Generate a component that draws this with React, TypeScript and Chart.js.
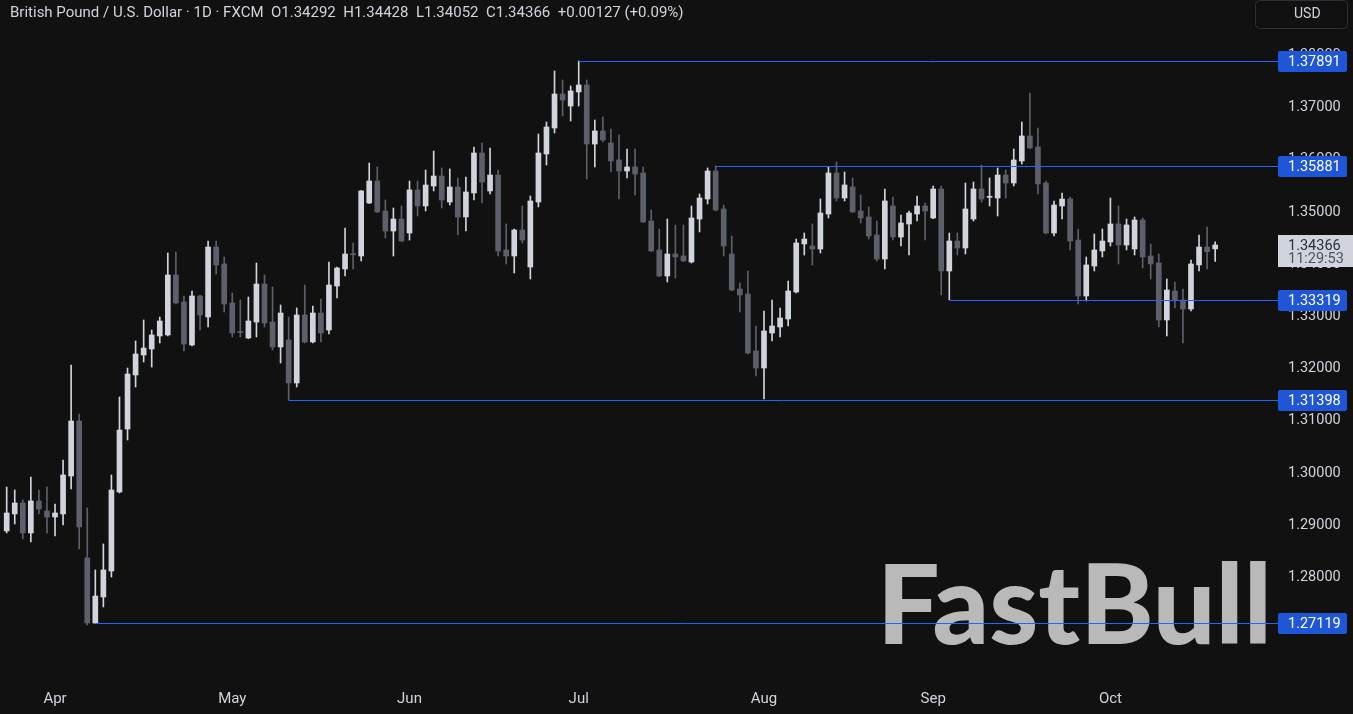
import React, { useEffect, useRef } from 'react';
import { Chart, registerables } from 'chart.js';

Chart.register(...registerables);

// ---------- data ----------
const START_DATE = '2025-03-24'; // first daily candle (weekdays only)

const opens = [
  1.28888, 1.29214, 1.29424, 1.28850, 1.29463, 1.29271, 1.29156, 1.29214, 1.29941, 1.30995,
  1.28372, 1.27125, 1.27623, 1.28121, 1.29635, 1.30842, 1.31876, 1.32259, 1.32374, 1.32624,
  1.32643, 1.33792, 1.33275, 1.32451, 1.33390, 1.32987, 1.34328, 1.34003, 1.33256, 1.32700,
  1.32585, 1.32891, 1.33619, 1.32891, 1.32413, 1.32547, 1.31723, 1.33026, 1.32509, 1.33064,
  1.32738, 1.33581, 1.33907, 1.34194, 1.34156, 1.35171, 1.35593, 1.35018, 1.34635, 1.34864,
  1.34596, 1.35422, 1.35114, 1.35497, 1.35688, 1.35190, 1.35478, 1.34903, 1.35363, 1.36129,
  1.35402, 1.35707, 1.34271, 1.34156, 1.34654, 1.33945, 1.35190, 1.36110, 1.36608, 1.37259,
  1.37029, 1.37298, 1.37432, 1.36301, 1.36551, 1.36321, 1.35995, 1.35784, 1.35861, 1.35746,
  1.34826, 1.34271, 1.33773, 1.34194, 1.34156, 1.34041, 1.34864, 1.35248, 1.35784, 1.35056,
  1.34194, 1.33524, 1.33428, 1.32336, 1.32010, 1.32681, 1.32796, 1.32949, 1.33466, 1.34386,
  1.34347, 1.34290, 1.34960, 1.35746, 1.35267, 1.35478, 1.35018, 1.34903, 1.34558, 1.34098,
  1.35114, 1.34520, 1.34769, 1.34960, 1.35114, 1.34884, 1.35440, 1.33869, 1.34443, 1.34309,
  1.34864, 1.35440, 1.35280, 1.35267, 1.35707, 1.35554, 1.35976, 1.36455, 1.36244, 1.35554,
  1.34596, 1.35114, 1.35248, 1.34462, 1.33390, 1.33964, 1.34252, 1.34424, 1.34769, 1.34366,
  1.34290, 1.34845, 1.34156, 1.34022, 1.32930, 1.33485, 1.33313, 1.33141, 1.33984, 1.34328,
  1.34292,
];

const highs = [
  1.29730, 1.29673, 1.29482, 1.29922, 1.29673, 1.29730, 1.29405, 1.30248, 1.32068, 1.31129,
  1.29329, 1.28141, 1.28639, 1.29961, 1.31455, 1.32010, 1.32528, 1.32930, 1.32738, 1.32987,
  1.34213, 1.34232, 1.33390, 1.33485, 1.33400, 1.34443, 1.34443, 1.34137, 1.33447, 1.33313,
  1.33371, 1.34022, 1.33792, 1.33562, 1.33217, 1.32987, 1.33160, 1.33600, 1.33198, 1.33332,
  1.34041, 1.33945, 1.34692, 1.34405, 1.35410, 1.35937, 1.35861, 1.35229, 1.35075, 1.35114,
  1.35593, 1.35593, 1.35803, 1.36167, 1.35842, 1.35823, 1.35650, 1.35669, 1.36244, 1.36321,
  1.36225, 1.35803, 1.34769, 1.34673, 1.35114, 1.35305, 1.36493, 1.36723, 1.37700, 1.37527,
  1.37413, 1.37891, 1.37527, 1.36761, 1.36819, 1.36589, 1.36474, 1.36206, 1.36206, 1.35861,
  1.35037, 1.34673, 1.34864, 1.34750, 1.34750, 1.35114, 1.35344, 1.35842, 1.35881, 1.35133,
  1.34539, 1.33639, 1.33869, 1.32815, 1.33102, 1.33313, 1.33160, 1.33677, 1.34481, 1.34596,
  1.34769, 1.35248, 1.35861, 1.35957, 1.35765, 1.35650, 1.35324, 1.35095, 1.34826, 1.35440,
  1.35286, 1.34941, 1.35018, 1.35305, 1.35171, 1.35497, 1.35497, 1.34596, 1.34596, 1.35554,
  1.35573, 1.35899, 1.35650, 1.35842, 1.35803, 1.36206, 1.36723, 1.37278, 1.36608, 1.35593,
  1.35210, 1.35363, 1.35286, 1.34673, 1.34137, 1.34577, 1.34673, 1.35267, 1.35114, 1.34864,
  1.34903, 1.34884, 1.34386, 1.34194, 1.33715, 1.33658, 1.33524, 1.34079, 1.34558, 1.34711,
  1.34428,
];

const lows = [
  1.28850, 1.29022, 1.28735, 1.28677, 1.29214, 1.28850, 1.28792, 1.29003, 1.29692, 1.28544,
  1.27087, 1.27119, 1.27432, 1.28006, 1.29616, 1.30631, 1.31646, 1.32125, 1.32029, 1.32489,
  1.32624, 1.33236, 1.32336, 1.32432, 1.32738, 1.32796, 1.33811, 1.33083, 1.32604, 1.32604,
  1.32570, 1.32604, 1.32796, 1.32355, 1.32106, 1.31398, 1.31646, 1.32490, 1.32489, 1.32509,
  1.32662, 1.33351, 1.33773, 1.33907, 1.34060, 1.35160, 1.34990, 1.34501, 1.34156, 1.34430,
  1.34462, 1.34922, 1.35018, 1.35402, 1.35075, 1.35133, 1.34558, 1.34635, 1.35229, 1.35171,
  1.35344, 1.34156, 1.34003, 1.33830, 1.34405, 1.33715, 1.35095, 1.35899, 1.36512, 1.36838,
  1.36742, 1.37029, 1.35631, 1.35861, 1.36340, 1.35765, 1.35248, 1.35650, 1.35324, 1.34800,
  1.34240, 1.33760, 1.33658, 1.33734, 1.34050, 1.34022, 1.34616, 1.35152, 1.35020, 1.34156,
  1.33490, 1.33083, 1.32280, 1.31857, 1.31416, 1.32528, 1.32604, 1.32815, 1.33447, 1.34175,
  1.33984, 1.34213, 1.34884, 1.35210, 1.35210, 1.34990, 1.34788, 1.34481, 1.34060, 1.33907,
  1.34462, 1.34347, 1.34175, 1.34826, 1.34462, 1.34870, 1.33409, 1.33319, 1.34175, 1.34194,
  1.34826, 1.35190, 1.35114, 1.34922, 1.35267, 1.35497, 1.35918, 1.36210, 1.35344, 1.34580,
  1.34539, 1.34864, 1.34271, 1.33236, 1.33294, 1.33869, 1.34137, 1.34347, 1.34003, 1.34271,
  1.34175, 1.33926, 1.33715, 1.32796, 1.32624, 1.33160, 1.32489, 1.33102, 1.33869, 1.33907,
  1.34052,
];

const closes = [
  1.29233, 1.29424, 1.28850, 1.29463, 1.29309, 1.29156, 1.29233, 1.29961, 1.30995, 1.28964,
  1.27125, 1.27642, 1.28141, 1.29673, 1.30822, 1.31895, 1.32278, 1.32393, 1.32643, 1.32911,
  1.33792, 1.33256, 1.32470, 1.33390, 1.33026, 1.34328, 1.33984, 1.33236, 1.32681, 1.32690,
  1.32911, 1.33619, 1.32872, 1.32413, 1.33064, 1.31723, 1.33026, 1.32509, 1.33064, 1.32681,
  1.33600, 1.33926, 1.34194, 1.34180, 1.35402, 1.35593, 1.34999, 1.34635, 1.34864, 1.34443,
  1.35422, 1.35114, 1.35516, 1.35688, 1.35229, 1.35478, 1.34903, 1.35382, 1.36129, 1.35573,
  1.35707, 1.34252, 1.34156, 1.34654, 1.34462, 1.35210, 1.36129, 1.36627, 1.37259, 1.37144,
  1.37317, 1.37432, 1.36301, 1.36551, 1.36378, 1.35976, 1.35784, 1.35861, 1.35727, 1.34807,
  1.34252, 1.33773, 1.34194, 1.34137, 1.34060, 1.34884, 1.35267, 1.35784, 1.35037, 1.34347,
  1.33505, 1.33409, 1.32298, 1.32010, 1.32719, 1.32815, 1.32968, 1.33485, 1.34405, 1.34481,
  1.34290, 1.34980, 1.35746, 1.35267, 1.35516, 1.34999, 1.34884, 1.34539, 1.34098, 1.35210,
  1.34520, 1.34788, 1.34980, 1.35114, 1.35018, 1.35440, 1.33869, 1.34443, 1.34309, 1.35056,
  1.35440, 1.35248, 1.35290, 1.35707, 1.35554, 1.35995, 1.36455, 1.36225, 1.35535, 1.34596,
  1.35133, 1.35248, 1.34443, 1.33390, 1.33984, 1.34271, 1.34443, 1.34769, 1.34366, 1.34750,
  1.34845, 1.34137, 1.34003, 1.32930, 1.33505, 1.33313, 1.33141, 1.34003, 1.34328, 1.34239,
  1.34366,
];

const monthLabels = ['Apr', 'May', 'Jun', 'Jul', 'Aug', 'Sep', 'Oct'];
const priceTicks = [1.27, 1.28, 1.29, 1.30, 1.31, 1.32, 1.33, 1.34, 1.35, 1.36, 1.37, 1.38];

// horizontal levels drawn on the chart, and the candle index each starts from
const levelPrices = [1.37891, 1.35881, 1.33319, 1.31398, 1.27119];
const levelStartIndex = [71, 88, 117, 35, 11];

const symbolTitle = 'British Pound / U.S. Dollar · 1D · FXCM';
const countdown = '11:29:53';
const currency = 'USD';
const watermarkText = 'FastBull';

// ---------- view settings ----------
const X_MIN = -0.83;
const X_MAX = 157.8;
const Y_MIN = 1.26033;
const Y_MAX = 1.3906;

const BG = '#111111';
const UP = '#d1d4dc';
const DOWN = '#5d606b';
const TEXT = '#d1d4dc';
const LEVEL = '#2962ff';
const LEVEL_BOX = '#1f56d8';
const FONT = 'Roboto, "Noto Sans", sans-serif';
const AXIS_FONT_SIZE = 14.5;

function buildDates(start: string, n: number): Date[] {
  const out: Date[] = [];
  const d = new Date(start + 'T00:00:00Z');
  while (out.length < n) {
    const wd = d.getUTCDay();
    if (wd !== 0 && wd !== 6) out.push(new Date(d.getTime()));
    d.setUTCDate(d.getUTCDate() + 1);
  }
  return out;
}

const dates = buildDates(START_DATE, opens.length);
const monthStartIdx: number[] = [];
for (let i = 1; i < dates.length; i++) {
  if (dates[i].getUTCMonth() !== dates[i - 1].getUTCMonth()) monthStartIdx.push(i);
}

const overlayPlugin = {
  id: 'overlay',
  beforeDraw(chart: any) {
    const { ctx, width, height } = chart;
    ctx.save();
    ctx.fillStyle = BG;
    ctx.fillRect(0, 0, width, height);
    ctx.restore();
  },
  beforeDatasetsDraw(chart: any) {
    const { ctx } = chart;
    ctx.save();
    let size = 100;
    ctx.font = `900 ${size}px Lato, ${FONT}`;
    const w = ctx.measureText(watermarkText).width;
    size = (size * 395) / w;
    ctx.font = `900 ${size}px Lato, ${FONT}`;
    ctx.fillStyle = '#b9b9b9';
    ctx.textBaseline = 'alphabetic';
    ctx.textAlign = 'left';
    ctx.fillText(watermarkText, 877, 644);
    ctx.restore();
  },
  afterDatasetsDraw(chart: any) {
    const { ctx, chartArea, scales } = chart;
    const xs = scales.x;
    const ys = scales.y;
    ctx.save();
    ctx.strokeStyle = LEVEL;
    ctx.lineWidth = 1;
    levelPrices.forEach((p, i) => {
      const y = Math.round(ys.getPixelForValue(p)) + 0.5;
      const x0 = xs.getPixelForValue(levelStartIndex[i]);
      ctx.beginPath();
      ctx.moveTo(x0, y);
      ctx.lineTo(chartArea.right, y);
      ctx.stroke();
    });
    ctx.restore();
  },
  afterDraw(chart: any) {
    const { ctx, chartArea, scales, width } = chart;
    const ys = scales.y;
    ctx.save();
    // level labels on the price axis
    ctx.font = `${AXIS_FONT_SIZE}px ${FONT}`;
    ctx.textBaseline = 'middle';
    ctx.textAlign = 'left';
    levelPrices.forEach((p) => {
      const y = Math.round(ys.getPixelForValue(p));
      ctx.fillStyle = LEVEL_BOX;
      ctx.beginPath();
      (ctx as any).roundRect(chartArea.right, y - 10, 69, 21, 2);
      ctx.fill();
      ctx.fillStyle = '#ffffff';
      ctx.fillText(p.toFixed(5), chartArea.right + 10, y + 1);
    });
    // last price label
    const last = closes.length - 1;
    const yl = Math.round(ys.getPixelForValue(closes[last]));
    ctx.fillStyle = '#d1d4dc';
    ctx.fillRect(chartArea.right, yl - 10, width - chartArea.right, 32);
    ctx.fillStyle = '#2a2e39';
    ctx.fillText(closes[last].toFixed(5), chartArea.right + 10, yl + 1);
    ctx.fillStyle = '#50535e';
    ctx.fillText(countdown, chartArea.right + 10, yl + 14);
    // title
    const prev = closes[last - 1];
    const chg = closes[last] - prev;
    const pct = (chg / prev) * 100;
    const sign = chg >= 0 ? '+' : '-';
    const title =
      `${symbolTitle}  O${opens[last].toFixed(5)}  H${highs[last].toFixed(5)}  L${lows[last].toFixed(5)}  C${closes[last].toFixed(5)}  ` +
      `${sign}${Math.abs(chg).toFixed(5)} (${sign}${Math.abs(pct).toFixed(2)}%)`;
    ctx.fillStyle = TEXT;
    ctx.font = `15px ${FONT}`;
    ctx.fillText(title, 10, 13);
    // currency box
    ctx.strokeStyle = '#2f3139';
    ctx.lineWidth = 1;
    ctx.beginPath();
    (ctx as any).roundRect(1255.5, 0.5, 92, 28, 4);
    ctx.stroke();
    ctx.fillStyle = TEXT;
    ctx.font = `14px ${FONT}`;
    ctx.fillText(currency, 1294, 14);
    ctx.restore();
  },
};

export default function App() {
  const ref = useRef<HTMLCanvasElement | null>(null);

  useEffect(() => {
    const canvas = ref.current;
    if (!canvas) return;
    const colors = opens.map((o, i) => (closes[i] >= o ? UP : DOWN));
    const chart = new Chart(canvas, {
      type: 'bar',
      data: {
        datasets: [
          {
            label: 'body',
            data: opens.map((o, i) => ({ x: i, y: [o, closes[i]] })) as any,
            backgroundColor: colors,
            borderWidth: 0,
            barThickness: 5,
            minBarLength: 1,
            grouped: false,
            order: 0,
          },
          {
            label: 'wick',
            data: lows.map((l, i) => ({ x: i, y: [l, highs[i]] })) as any,
            backgroundColor: colors,
            borderWidth: 0,
            barThickness: 1,
            grouped: false,
            order: 1,
          },
        ],
      },
      options: {
        animation: false,
        responsive: false,
        devicePixelRatio: 1,
        layout: { padding: 0 },
        plugins: { legend: { display: false }, tooltip: { enabled: false } },
        scales: {
          x: {
            type: 'linear',
            min: X_MIN,
            max: X_MAX,
            offset: false,
            grid: { display: false, drawTicks: false },
            border: { display: false },
            afterBuildTicks: (scale: any) => {
              scale.ticks = monthStartIdx.map((v) => ({ value: v }));
            },
            afterFit: (scale: any) => {
              scale.height = 34;
              scale.paddingLeft = 0;
              scale.paddingRight = 0;
            },
            ticks: {
              autoSkip: false,
              maxRotation: 0,
              color: TEXT,
              padding: 10,
              font: { family: FONT, size: 15 },
              callback: (_v: any, i: number) => monthLabels[i],
            },
          },
          y: {
            type: 'linear',
            position: 'right',
            min: Y_MIN,
            max: Y_MAX,
            grid: { display: false, drawTicks: false },
            border: { display: false },
            afterBuildTicks: (scale: any) => {
              scale.ticks = priceTicks.map((v) => ({ value: v }));
            },
            afterFit: (scale: any) => {
              scale.width = 75;
              scale.paddingTop = 0;
              scale.paddingBottom = 0;
            },
            ticks: {
              color: TEXT,
              padding: 10,
              font: { family: FONT, size: AXIS_FONT_SIZE },
              callback: (v: any) => Number(v).toFixed(5),
            },
          },
        },
      } as any,
      plugins: [overlayPlugin],
    });
    return () => chart.destroy();
  }, []);

  return (
    <div style={{ position: 'fixed', left: 0, top: 0, width: 1353, height: 714, background: BG }}>
      <canvas ref={ref} width={1353} height={714} style={{ display: 'block' }} />
    </div>
  );
}
